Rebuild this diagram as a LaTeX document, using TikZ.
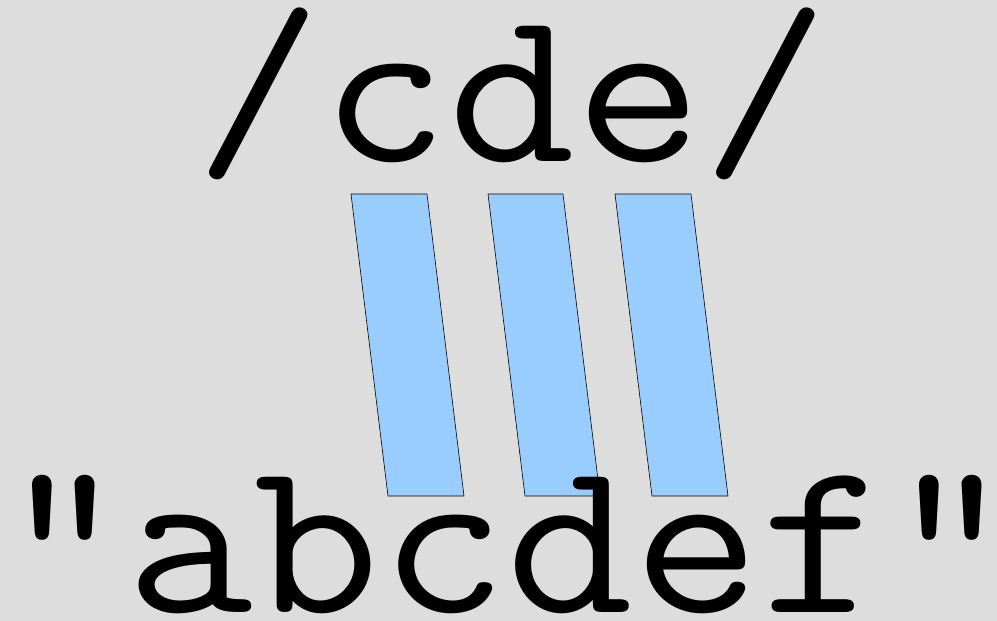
\documentclass[tikz,border=0pt]{standalone}
\usepackage{fontspec}
\usepackage{graphicx}
\definecolor{bg}{HTML}{DDDDDD}
\definecolor{barblue}{HTML}{99CCFF}
\begin{document}
\begin{tikzpicture}[x=1pt,y=-1pt,
  bar/.style={fill=barblue,draw=black,line width=0.6pt,line join=miter},
  bigtext/.style={inner sep=0pt,anchor=base,font=\ttfamily\fontsize{246}{246}\selectfont}]
\fill[bg] (0,0) rectangle (997,621);
\useasboundingbox (0,0) rectangle (997,621);
\draw[bar] (351,194) -- (427,194) -- (464,496) -- (388,496) -- cycle;
\draw[bar] (488,194) -- (563,194) -- (600,496) -- (525,496) -- cycle;
\draw[bar] (615,194) -- (691,194) -- (728,496) -- (652,496) -- cycle;
\node[bigtext] (top) at (512,161) {\scalebox{1}[0.9]{/cde/}};
\node[bigtext] (bottom) at (507,612) {\scalebox{1}[0.9]{"abcdef"}};
\end{tikzpicture}
\end{document}
